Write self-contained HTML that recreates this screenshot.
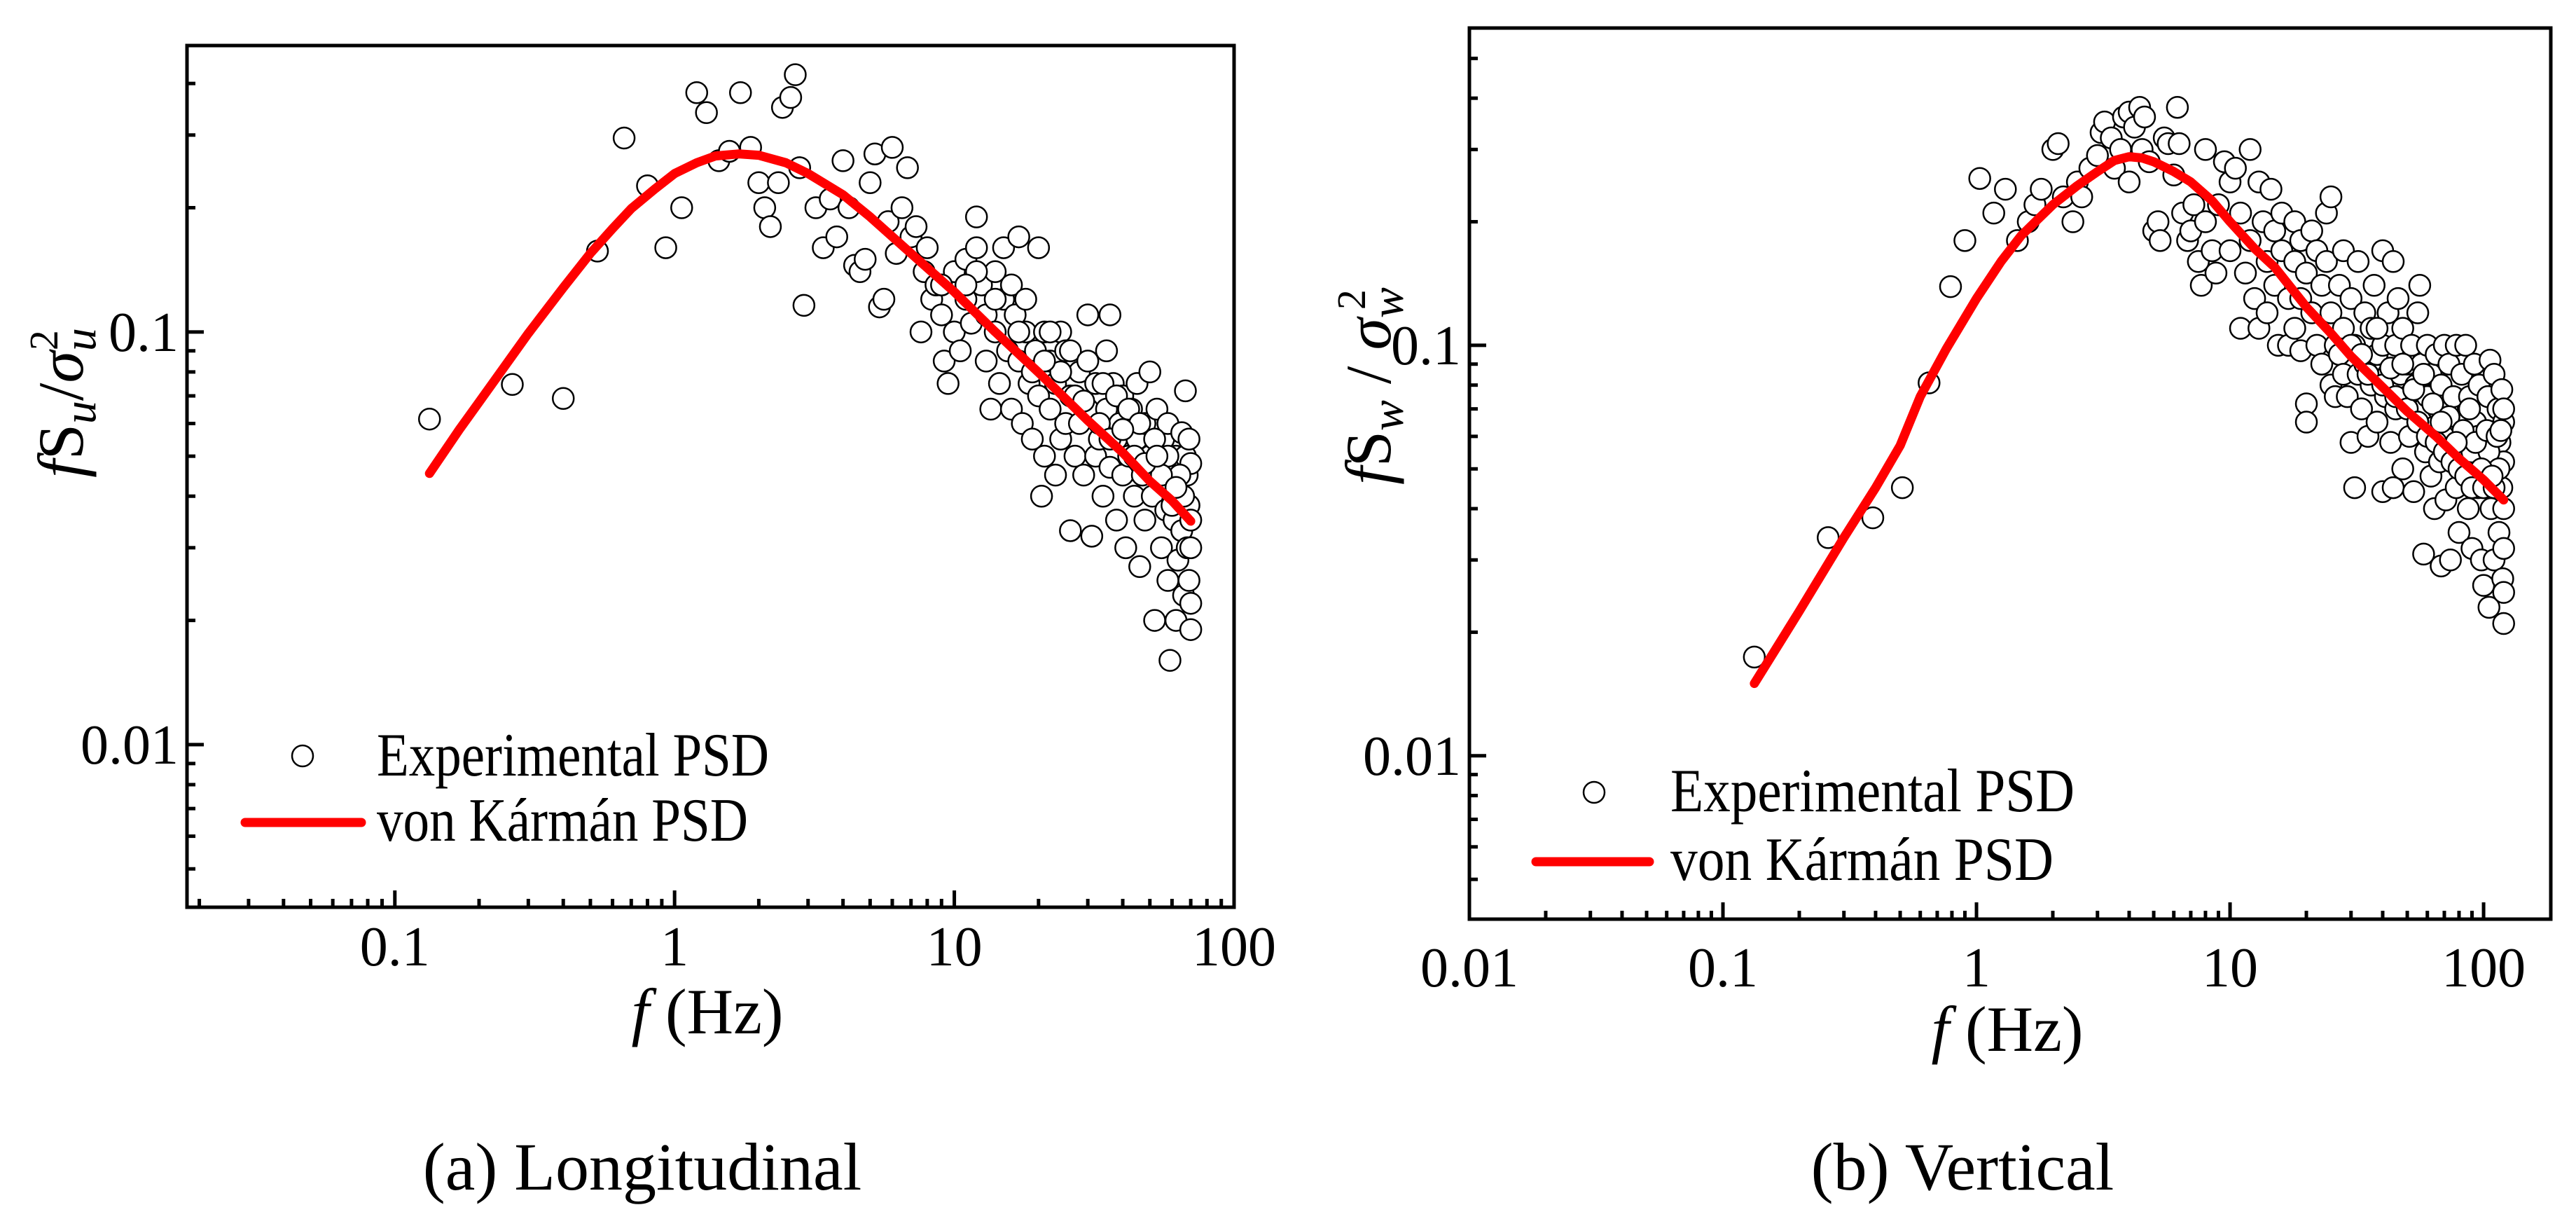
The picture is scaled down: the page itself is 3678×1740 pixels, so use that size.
<!DOCTYPE html>
<html><head><meta charset="utf-8"><style>html,body{margin:0;padding:0;background:#fff}svg{display:block}</style></head>
<body>
<svg id="fig" width="3678" height="1740" viewBox="0 0 3678 1740" xmlns="http://www.w3.org/2000/svg" font-family="'Liberation Serif', serif">
<g id="pa"></g>
<g id="pb"></g>
<text x="917" y="1698" font-size="96" text-anchor="middle">(a) Longitudinal</text>
<text x="2802" y="1698" font-size="96" text-anchor="middle">(b) Vertical</text>
</svg>
<script>
// ---- Panel (a) data ----
const fU = [0.133,0.263,0.40,0.53,0.66,0.80,0.93,1.06,1.2,1.3,1.44,1.57,1.72,1.87,2.0,2.1,2.2,2.35,2.43,2.6,2.7,2.9,2.8,
3.2,3.4,3.6,3.8,4,4.2,4.4,4.6,4.8,5,5.2,5.4,5.6,5.8,6,6.2,6.5,6.8,7,7.3,7.6,7.8,8,8.3,8.6,9,9.2,9.5,10,10,10.5,11,11,11.5,12,12,12.5,13,13,13.5,14,14,14.5,15,15,15.5,16,16.5,17,17,17.5,18,18.5,19,19.5,20,20,20.5,21,21,22,22,23,23,24,24,25,25,26,26,27,28,28,29,30,30,31,32,32,33,34,35,35,36,36,37,38,38,39,40,40,41,42,43,44,45,45,46,47,48,48,50,50,51,52,53,54,55,56,57,58,58,59,60,61,62,62,63,64,65,65,66,67,67,68,68,69,69,69,70,70,70,70,70,
12,16,18,22,26,30,34,38,42,46,52,58,64,11,9,19,27,33,44,55,60,66,24,29,36,48,14,17,21,40,53,62];
const sU = [0.0615,0.0746,0.069,0.157,0.295,0.226,0.16,0.2,0.38,0.34,0.26,0.274,0.38,0.28,0.23,0.2,0.18,0.23,0.35,0.37,0.42,0.116,0.25,
0.2,0.16,0.21,0.17,0.26,0.2,0.145,0.14,0.15,0.23,0.27,0.115,0.12,0.185,0.28,0.155,0.2,0.25,0.17,0.18,0.1,0.14,0.16,0.12,0.13,0.11,0.085,0.075,0.14,0.1,0.09,0.15,0.12,0.105,0.19,0.16,0.13,0.085,0.11,0.065,0.14,0.1,0.075,0.16,0.12,0.09,0.065,0.11,0.17,0.085,0.06,0.1,0.075,0.055,0.09,0.16,0.07,0.04,0.1,0.05,0.085,0.065,0.045,0.075,0.1,0.055,0.09,0.06,0.033,0.07,0.05,0.08,0.06,0.045,0.11,0.065,0.032,0.075,0.05,0.055,0.04,0.09,0.065,0.11,0.047,0.075,0.035,0.055,0.06,0.07,0.045,0.03,0.05,0.065,0.04,0.075,0.055,0.027,0.045,0.06,0.035,0.08,0.05,0.04,0.02,0.065,0.045,0.03,0.055,0.037,0.06,0.025,0.016,0.045,0.035,0.05,0.02,0.028,0.04,0.057,0.033,0.023,0.072,0.05,0.045,0.03,0.055,0.038,0.025,0.048,0.035,0.03,0.022,0.019,
0.14,0.13,0.12,0.1,0.09,0.085,0.075,0.07,0.065,0.06,0.055,0.05,0.045,0.13,0.13,0.08,0.07,0.06,0.05,0.045,0.038,0.04,0.08,0.068,0.055,0.048,0.12,0.1,0.085,0.058,0.05,0.042];
const fitFU = [0.133,0.17,0.2,0.25,0.3,0.4,0.5,0.6,0.7,0.85,1,1.2,1.4,1.7,2,2.5,3,4,5,7,10,14,20,30,40,50,60,70];
const fitSU = [0.0454,0.058,0.0676,0.0835,0.0992,0.128,0.155,0.178,0.199,0.222,0.242,0.257,0.267,0.27,0.268,0.257,0.242,0.215,0.19,0.155,0.125,0.1,0.0798,0.061,0.051,0.0435,0.039,0.0348];
const xTicksA = [0.1,1,10,100];
const xTickLabelsA = ["0.1","1","10","100"];
const yTicksA = [0.01,0.1];
const yTickLabelsA = ["0.01","0.1"];

// ---- Panel (b) data ----
const fW = [0.133,0.26,0.39,0.51,0.65,0.79,0.9,1.03,1.17,1.3,1.45,
1.6,1.7,1.8,2,2.1,2.2,2.4,2.5,2.6,2.8,3,3.1,3.2,3.4,3.5,3.7,3.8,4,4,4.2,4.4,4.5,4.6,4.8,5,5.2,5.3,5.5,5.7,6,6.2,6.3,6.5,6.8,7,7.2,7.5,7.7,8,8,8.5,8.8,9,9.5,10,10,10.5,11,11,11.5,12,12,12.5,13,13,13.5,14,14,14.5,15,15,15.5,16,16,17,17,18,18,18,19,19,19,20,20,20,21,21,22,22,23,23,24,24,25,25,25,26,26,27,27,28,28,28,29,30,30,31,31,32,32,33,34,34,35,36,36,37,38,38,40,40,40,41,42,42,43,44,44,45,45,46,47,48,48,50,50,51,52,53,54,55,55,56,57,58,58,59,60,60,62,62,63,64,65,66,67,68,68,70,70,71,72,73,74,75,76,78,78,80,80,82,83,85,85,87,88,90,90,92,93,95,96,98,100,100,102,104,105,106,107,108,110,110,112,114,115,116,118,118,119,120,120,120,120,120,120,120,
30,35,40,45,50,55,60,65,70,75,80,85,90,95,100,105,110,115,33,43,53,63,73,83,93,103,113,38,48,58,68,78,88,98,108,117];
const sW = [0.0174,0.034,0.038,0.045,0.081,0.139,0.18,0.255,0.21,0.24,0.18,
0.2,0.22,0.24,0.3,0.31,0.23,0.2,0.25,0.23,0.27,0.29,0.33,0.35,0.32,0.27,0.3,0.36,0.37,0.25,0.34,0.38,0.3,0.36,0.28,0.19,0.2,0.18,0.32,0.31,0.26,0.38,0.31,0.21,0.18,0.19,0.22,0.16,0.14,0.3,0.2,0.17,0.15,0.22,0.28,0.25,0.17,0.27,0.11,0.21,0.15,0.3,0.18,0.13,0.25,0.11,0.2,0.16,0.12,0.24,0.19,0.14,0.1,0.21,0.17,0.13,0.1,0.2,0.16,0.11,0.18,0.13,0.097,0.072,0.065,0.15,0.19,0.12,0.17,0.1,0.14,0.09,0.21,0.16,0.23,0.12,0.08,0.075,0.1,0.14,0.095,0.17,0.11,0.085,0.075,0.058,0.13,0.045,0.1,0.16,0.085,0.07,0.12,0.09,0.06,0.11,0.08,0.14,0.095,0.065,0.17,0.044,0.1,0.075,0.12,0.085,0.058,0.16,0.045,0.1,0.07,0.13,0.085,0.05,0.11,0.075,0.09,0.06,0.1,0.044,0.08,0.12,0.065,0.14,0.09,0.031,0.07,0.055,0.1,0.075,0.085,0.048,0.06,0.04,0.095,0.07,0.052,0.029,0.08,0.1,0.06,0.042,0.07,0.09,0.03,0.055,0.075,0.1,0.045,0.065,0.035,0.085,0.05,0.1,0.06,0.04,0.075,0.055,0.032,0.09,0.065,0.045,0.08,0.03,0.06,0.026,0.05,0.075,0.023,0.092,0.04,0.06,0.03,0.085,0.05,0.07,0.035,0.058,0.045,0.078,0.027,0.065,0.04,0.052,0.032,0.025,0.021,0.07,
0.1,0.085,0.08,0.075,0.07,0.065,0.06,0.058,0.055,0.052,0.05,0.048,0.045,0.06,0.045,0.055,0.045,0.05,0.095,0.088,0.078,0.072,0.067,0.062,0.058,0.062,0.06,0.11,0.09,0.085,0.065,0.058,0.07,0.05,0.048,0.062];
const fitFW = [0.133,0.2,0.3,0.4,0.5,0.6,0.76,1,1.25,1.5,2,2.5,3,3.5,4,4.5,5,6,7,8.5,10,12.5,15,20,25,30,40,50,65,80,100,120];
const fitSW = [0.015,0.0225,0.034,0.045,0.057,0.075,0.098,0.13,0.16,0.185,0.22,0.245,0.265,0.282,0.288,0.286,0.28,0.265,0.25,0.225,0.2,0.172,0.155,0.124,0.107,0.094,0.079,0.069,0.06,0.053,0.047,0.042];
const xTicksB = [0.01,0.1,1,10,100];
const xTickLabelsB = ["0.01","0.1","1","10","100"];
const yTicksB = [0.01,0.1];
const yTickLabelsB = ["0.01","0.1"];

const NS = "http://www.w3.org/2000/svg";
function mk(parent, tag, attrs, text){
  const e = document.createElementNS(NS, tag);
  for (const k in attrs) e.setAttribute(k, attrs[k]);
  if (text !== undefined) e.textContent = text;
  parent.appendChild(e);
  return e;
}
function logScale(d0, d1, r0, r1){
  const a = Math.log10(d0), b = Math.log10(d1);
  return v => r0 + (Math.log10(v) - a) / (b - a) * (r1 - r0);
}

function panel(g, cfg){
  const {L,R,T,B,xmin,xmax,ymin,ymax} = cfg;
  const X = logScale(xmin, xmax, L, R);
  const Y = logScale(ymin, ymax, B, T);
  const tg = mk(g, 'g', {stroke:'#000','stroke-width':5});
  
  
  for (let e = Math.floor(Math.log10(xmin)); e <= Math.ceil(Math.log10(xmax)); e++){
    for (let m = 1; m <= 9; m++){
      const v = m * Math.pow(10, e);
      if (v < xmin*1.001 || v > xmax*0.999) continue;
      const x = X(v), len = m === 1 ? 24 : 12;
      mk(tg, 'line', {x1:x, x2:x, y1:B, y2:B-len});
    }
  }
  for (let e = Math.floor(Math.log10(ymin)); e <= Math.ceil(Math.log10(ymax)); e++){
    for (let m = 1; m <= 9; m++){
      const v = m * Math.pow(10, e);
      if (v < ymin*1.001 || v > ymax*0.999) continue;
      const y = Y(v), len = m === 1 ? 24 : 12;
      mk(tg, 'line', {x1:L, x2:L+len, y1:y, y2:y});
    }
  }
  cfg.xTicks.forEach((v,i)=>{
    const t = mk(g, 'text', {x:X(v), y:cfg.xLabY, 'font-size':80, 'text-anchor':'middle'}, cfg.xLabels[i]);
    
    
  });
  cfg.yTicks.forEach((v,i)=>{
    const t = mk(g, 'text', {x:L-12, y:Y(v)+27, 'font-size':80, 'text-anchor':'end'}, cfg.yLabels[i]);
    
    
  });
  const sg = mk(g, 'g', {fill:'#fff', stroke:'#000', 'stroke-width':2.5});
  
  
  cfg.fs.forEach((f,i)=>{
    const c = mk(sg, 'circle', {cx:X(f), cy:Y(cfg.ss[i]), r:15});
    
    
  });
  let d = '';
  cfg.ff.forEach((f,i)=>{ d += (i?'L':'M') + X(f).toFixed(1) + ',' + Y(cfg.fv[i]).toFixed(1); });
  const p = mk(g, 'path', {d, fill:'none', stroke:'#ff0000', 'stroke-width':13, 'stroke-linejoin':'round', 'stroke-linecap':'round'});
  
  
  const fr = mk(g, 'rect', {x:L, y:T, width:R-L, height:B-T, fill:'none', stroke:'#000', 'stroke-width':5});
  
  
  const lg = mk(g, 'g', {});
  
  
  const lc = mk(lg, 'circle', {cx:cfg.legCx, cy:cfg.legCy1, r:15, fill:'#fff', stroke:'#000', 'stroke-width':2.5});
  
  
  const lt1 = mk(lg, 'text', {x:cfg.legTx, y:cfg.legBy1, 'font-size':88, textLength:cfg.legW1, lengthAdjust:'spacingAndGlyphs'}, 'Experimental PSD');
  
  
  const ll = mk(lg, 'line', {x1:cfg.legL0, x2:cfg.legL1, y1:cfg.legLy, y2:cfg.legLy, stroke:'#ff0000', 'stroke-width':13, 'stroke-linecap':'round'});
  
  
  const lt2 = mk(lg, 'text', {x:cfg.legTx, y:cfg.legBy2, 'font-size':88, textLength:cfg.legW2, lengthAdjust:'spacingAndGlyphs'}, 'von Kármán PSD');
  
  
  const xt = mk(g, 'text', {x:cfg.xtX, y:cfg.xtY, 'font-size':92, 'text-anchor':'middle'});
  
  
  mk(xt, 'tspan', {'font-style':'italic'}, 'f');
  mk(xt, 'tspan', {}, ' (Hz)');
  const yt = mk(g, 'text', {transform:`translate(${cfg.ytX},${cfg.ytY}) rotate(-90)`, 'font-size':92, 'text-anchor':'middle'});
  
  
  mk(yt, 'tspan', {'font-style':'italic'}, 'f');
  mk(yt, 'tspan', {}, 'S');
  mk(yt, 'tspan', {'font-style':'italic', 'font-size':66, dy:18}, cfg.sub);
  mk(yt, 'tspan', {dy:-18}, cfg.sep);
  mk(yt, 'tspan', {'font-style':'italic'}, 'σ');
  mk(yt, 'tspan', {'font-style':'italic', 'font-size':66, dy:18}, cfg.sub);
  mk(yt, 'tspan', {'font-size':58, dx:-32, dy:-54}, '2');
}

panel(document.getElementById('pa'), {
  L:267, R:1762, T:65, B:1295,
  xmin:Math.pow(10,-1.743), xmax:Math.pow(10,2), ymin:Math.pow(10,-2.394), ymax:Math.pow(10,-0.306),
  xTicks:xTicksA, xLabels:xTickLabelsA, yTicks:yTicksA, yLabels:yTickLabelsA, xLabY:1378,
  fs:fU, ss:sU, ff:fitFU, fv:fitSU,
  legCx:432, legCy1:1079, legTx:538, legBy1:1107, legW1:560, legL0:350, legL1:516, legLy:1174, legBy2:1200, legW2:530,
  xtX:1010, xtY:1475, ytX:118, ytY:575, sub:'u', sep:'/'
});
panel(document.getElementById('pb'), {
  L:2098, R:3642, T:40, B:1312,
  xmin:0.01, xmax:Math.pow(10,2.265), ymin:Math.pow(10,-2.398), ymax:Math.pow(10,-0.227),
  xTicks:xTicksB, xLabels:xTickLabelsB, yTicks:yTicksB, yLabels:yTickLabelsB, xLabY:1408,
  fs:fW, ss:sW, ff:fitFW, fv:fitSW,
  legCx:2276, legCy1:1131, legTx:2385, legBy1:1158, legW1:577, legL0:2193, legL1:2355, legLy:1230, legBy2:1256, legW2:547,
  xtX:2866, xtY:1500, ytX:1985, ytY:551, sub:'w', sep:' / '
});
</script>
</body></html>
